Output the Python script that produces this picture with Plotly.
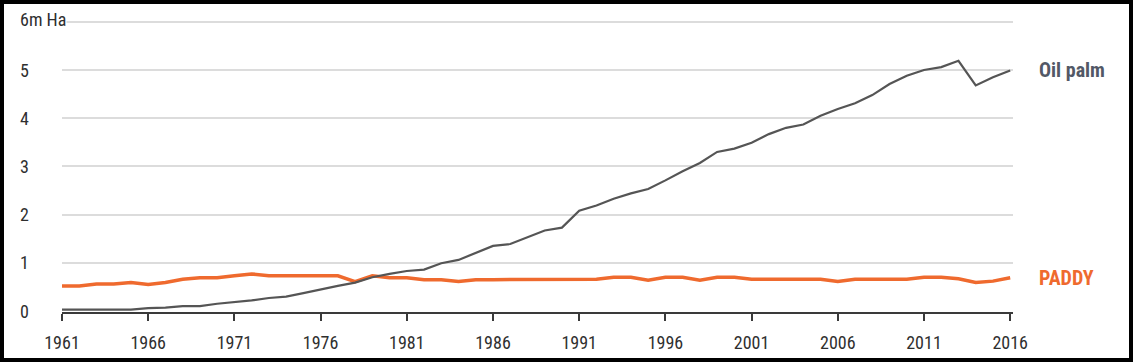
import plotly.graph_objects as go

years = list(range(1961, 2017))
oil_palm = [0.03, 0.03, 0.03, 0.03, 0.03, 0.06, 0.07, 0.10, 0.10, 0.15,
            0.18, 0.22, 0.27, 0.30, 0.37, 0.45, 0.52, 0.59, 0.70, 0.77,
            0.83, 0.86, 0.99, 1.06, 1.20, 1.35, 1.39, 1.53, 1.67, 1.73,
            2.08, 2.19, 2.33, 2.44, 2.53, 2.71, 2.90, 3.07, 3.30, 3.37,
            3.49, 3.67, 3.80, 3.87, 4.05, 4.19, 4.31, 4.48, 4.71, 4.88,
            5.00, 5.06, 5.19, 4.68, 4.85, 4.99]
paddy = [0.52, 0.52, 0.56, 0.56, 0.59, 0.55, 0.59, 0.66, 0.69, 0.69,
         0.73, 0.77, 0.73, 0.73, 0.73, 0.73, 0.73, 0.61, 0.73, 0.69,
         0.69, 0.65, 0.65, 0.61, 0.65, 0.65, 0.65, 0.65, 0.65, 0.65,
         0.66, 0.66, 0.70, 0.70, 0.64, 0.70, 0.70, 0.64, 0.70, 0.70,
         0.66, 0.66, 0.66, 0.66, 0.66, 0.61, 0.66, 0.66, 0.66, 0.66,
         0.70, 0.70, 0.67, 0.59, 0.62, 0.69]
x_ticks = list(range(1961, 2017, 5))
y_ticks = [0, 1, 2, 3, 4, 5, 6]
y_tick_text = ["0", "1", "2", "3", "4", "5", "6m Ha"]
series_names = ["Oil palm", "PADDY"]

GRAY = "#555555"
LABEL_GRAY = "#525866"
ORANGE = "#ef6a2e"
TXT = "#2f2f2f"
GRID = "#dcdcdc"
FONT = "Roboto Condensed, DejaVu Sans Condensed, sans-serif"

W, H = 1133, 362
ml, mr, mt, mb = 62, 120, 10, 50
pw = W - ml - mr
ph = H - mt - mb
# y scale: 0 at pixel 311, 48.2 px per unit
y_lo = -(H - mb - 311) / 48.2
y_hi = y_lo + ph / 48.2

fig = go.Figure()
fig.add_trace(go.Scatter(x=years, y=paddy, mode="lines", name=series_names[1],
                         line=dict(color=ORANGE, width=3.5), showlegend=False))
fig.add_trace(go.Scatter(x=years, y=oil_palm, mode="lines", name=series_names[0],
                         line=dict(color=GRAY, width=2.2), showlegend=False))

def px_x(p):
    return (p - ml) / pw

def px_y(p):
    return (H - mb - p) / ph

annotations = []
for v, t in zip(y_ticks, y_tick_text):
    annotations.append(dict(x=px_x(19), xref="paper", y=v + (0.05 if v == 6 else 0), yref="y", text=t,
                            showarrow=False, xanchor="left", yanchor="middle",
                            font=dict(family=FONT, size=18, color=TXT),
                            bgcolor="white" if v == 6 else None, borderpad=0))
annotations.append(dict(x=px_x(1037), xref="paper", y=oil_palm[-1], yref="y",
                        text="<b>Oil palm</b>", showarrow=False, xanchor="left",
                        yanchor="middle", font=dict(family=FONT, size=20, color=LABEL_GRAY)))
annotations.append(dict(x=px_x(1037), xref="paper", y=paddy[-1] - 0.01, yref="y",
                        text="<b>PADDY</b>", showarrow=False, xanchor="left",
                        yanchor="middle", font=dict(family=FONT, size=20, color=ORANGE)))

fig.update_layout(
    width=W, height=H,
    margin=dict(l=ml, r=mr, t=mt, b=mb),
    paper_bgcolor="white", plot_bgcolor="white",
    annotations=annotations,
    shapes=[
        dict(type="rect", xref="paper", yref="paper",
             x0=px_x(0), x1=px_x(W), y0=px_y(H), y1=px_y(0),
             line=dict(color="black", width=8), fillcolor="rgba(0,0,0,0)"),
    ],
    xaxis=dict(range=[1961, 1961 + pw / 17.24], tickvals=x_ticks,
               showgrid=False, zeroline=False, showline=True,
               linecolor="#3a3a3a", linewidth=1.6,
               ticks="outside", ticklen=7, tickwidth=1.6, tickcolor="#3a3a3a",
               tickfont=dict(family=FONT, size=18, color=TXT),
               ticklabelstandoff=7),
    yaxis=dict(range=[y_lo, y_hi], tickvals=y_ticks, showticklabels=False,
               showgrid=True, gridcolor=GRID, gridwidth=1.5,
               zeroline=False, showline=False),
)
fig.write_html("out.html", config={"displayModeBar": False},
               post_script="document.body.style.margin='0';document.body.style.overflow='hidden';")
